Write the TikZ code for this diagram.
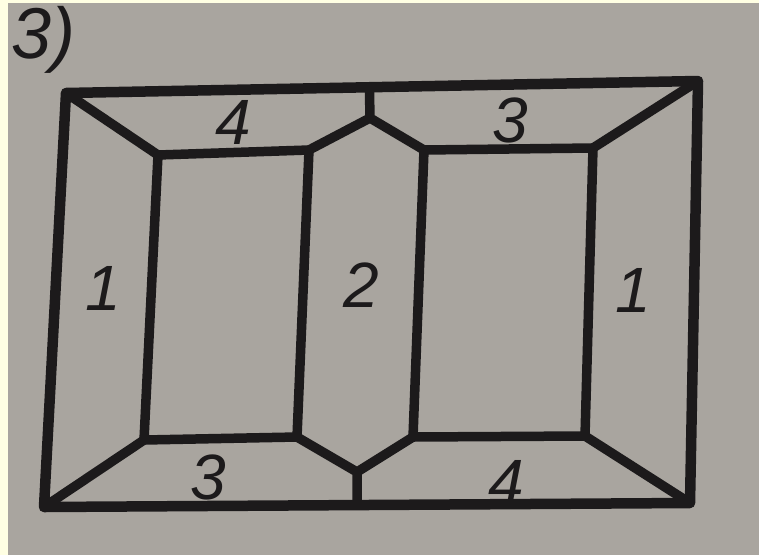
\documentclass[tikz,border=0pt]{standalone}
\usepackage{fontspec}
\newfontfamily\digitfont{Liberation Sans}
\usetikzlibrary{calc}
\definecolor{Paper}{HTML}{A9A59F}
\definecolor{Margin}{HTML}{FFFFE3}
\definecolor{Pencil}{HTML}{1C1A1B}

\begin{document}
\begin{tikzpicture}[x=1pt,y=-1pt,line cap=round,line join=round,
    frame/.style={Pencil,line width=10.5pt},
    seam/.style={Pencil,line width=9.5pt},
    digit/.style={text=Pencil,inner sep=0pt,
      font=\digitfont\itshape\fontsize{64}{70}\selectfont}]
  \useasboundingbox (0,0) rectangle (759,555);
  \fill[Paper] (0,0) rectangle (759,555);

  % outer frame
  \coordinate (otl) at (66,93);
  \coordinate (otr) at (698,81);
  \coordinate (obr) at (690,503);
  \coordinate (obl) at (44,507);
  % left window
  \coordinate (ltl) at (158,155);
  \coordinate (ltr) at (309,150);
  \coordinate (lbr) at (297,437);
  \coordinate (lbl) at (144,440);
  % right window
  \coordinate (rtl) at (424,150);
  \coordinate (rtr) at (593,148);
  \coordinate (rbr) at (585,436);
  \coordinate (rbl) at (413,437);
  % the two joints on the middle seam
  \coordinate (tj) at (370,118);
  \coordinate (bj) at (357,472);
  \coordinate (tt) at ($(otl)!(tj)!(otr)$);
  \coordinate (bt) at ($(obl)!(bj)!(obr)$);

  \draw[frame] (otl) -- (otr) -- (obr) -- (obl) -- cycle;
  \draw[seam] (ltl) -- (ltr) -- (lbr) -- (lbl) -- cycle;
  \draw[seam] (rtl) -- (rtr) -- (rbr) -- (rbl) -- cycle;
  \draw[seam] (otl) -- (ltl) (obl) -- (lbl)
    (otr) -- (rtr) (obr) -- (rbr);
  \draw[seam] (ltr) -- (tj) -- (rtl) (tj) -- (tt);
  \draw[seam] (lbr) -- (bj) -- (rbl) (bj) -- (bt);

  \node[digit] (tl) at (233,122) {4};
  \node[digit] (tr) at (510,120) {3};
  \node[digit] (sl) at (103,288) {1};
  \node[digit] (mid) at (361,285) {2};
  \node[digit] (sr) at (633,290) {1};
  \node[digit] (bl) at (208,477) {3};
  \node[digit] (br) at (506,482) {4};

  % photo edge
  \fill[Margin] (0,0) rectangle (8,555);
  \fill[Margin] (0,0) rectangle (759,3);

  \node[digit,anchor=north west,
    font=\digitfont\itshape\fontsize{72}{78}\selectfont]
    (num) at (11,6) {3)};
\end{tikzpicture}
\end{document}
